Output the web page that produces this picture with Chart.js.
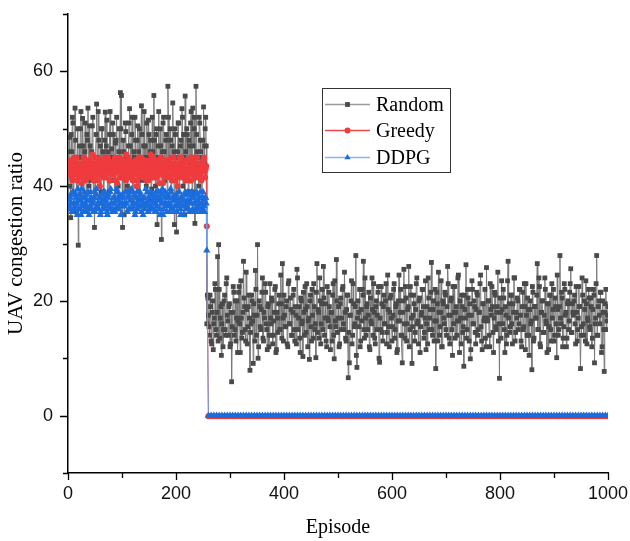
<!DOCTYPE html>
<html><head><meta charset="utf-8">
<script src="https://cdn.jsdelivr.net/npm/chart.js@4.4.0/dist/chart.umd.min.js"></script>
<style>html,body{margin:0;padding:0;background:#fff}canvas{display:block}</style>
</head><body>
<canvas id="c" width="630" height="541"></canvas>
<script>
const seriesNames = ['Random', 'Greedy', 'DDPG'];
const xTickLabels = [0, 200, 400, 600, 800, 1000];
const yTickLabels = [0, 20, 40, 60];

// odd episodes: phase 1 = 1,3,...,255 ; phase 2 = 257,...,999
// even episodes: phase 1 = 2,4,...,256 ; phase 2 = 258,...,1000
const oddStart1 = 1, evenStart1 = 2, oddStart2 = 257, evenStart2 = 258, episodeStep = 2;

const randomPhase1Odd = [
44,48.5,34.5,46,51,42,53.6,45,41,29.7,
47,50,43,51.8,38,46,44,49,53.6,40,
47,42,50.5,37,32.8,45,54.3,41,48,44,
39,50,46,42,52.9,47,38.5,44,49,41,
46.5,51,43,37.5,48,45,40,50,56.3,55.8,
32.8,46,42,49.5,44,39,51,47,43,52,
38,45,48,41,50.5,46,36.5,44,49,42,
53,47,40,45,51.5,43,48,39.5,46,55.8,
42,49,33.3,47,44,50,30.7,46,52,41,
48,44,57.4,43,50,38,47,45,33.3,49,
32,46,51,42,48,53.5,40,45,55.7,43,
49,39,47,51,44,53.6,50,33.5,57.4,46,
42,52,48,38,45,53.8,47,52
];
const randomPhase1Even = [
46,40,49,52,37,44,48,35.5,50,43,
45,53,39,47,42,51,36,48,44,50.5,
41,46,52,43,38,49,45,53,40,47,
50,44,36.5,48,42,51.5,46,39,53,45,
43,49,41,47.5,52,38,46,44,50,42,
48,35,51,45,40,47,53.5,43,49,37,
46,52,42,48,39,50,44,54,41,47,
45,38,51,43,49,46,36,52,44,48,
40,50,45,53,42,47,39,51,46,43,
49,37,52,44,48,41,54.5,46,50,42,
45,51,38,47,43,52,49,35,46,50,
41,48,44,53,39,47,52,43,49,45,
40,51,46,36,48,44,50,47
];

const randomPhase2Odd = [
16,20.5,15.5,21,13,18,11.5,17,22,14,
27.7,29.8,13.5,19,16,12,20,15,23,17.5,
14,19.5,12.5,5.9,18,21.5,15,13,20,16.5,
22.5,11,17,14.5,26.9,19,13,18.5,15.5,21,
7.9,16,20,9.1,17.5,25.3,14,29.8,12,19,
15,21.5,13.5,18,23,16,11.5,19.5,14,17,
20.5,12.5,16.5,22,11,18,14.5,21,15,19.5,
26.5,13,17.5,15.5,20,12,23.5,16,18.5,14,
21,15,19,12.5,24,17,13.5,20.5,16,10.3,
18,22.5,14.5,19,16.5,9.8,21,13,17.5,23,
15,10.1,26.5,18.5,13.5,20,16,22,26,14,
19.5,12,17,21.5,15.5,18,13,23,9.9,16.5,
27.2,14.5,19,12.5,20.5,17,22.5,15,18,13,
21,6.6,9.2,17.5,23.5,14,19.5,16,27.9,8.4,
20,15.5,12,18.5,22,26.9,13.5,17,19,15,
21.5,11.5,16.5,24,14,18,12.5,20,17.5,22.5,
9.3,15,19.5,13,21,16,23,14.5,18.5,12,
20.5,17,15.5,22,13.5,19,11,16.5,24.5,18,
14,9.2,20,16,22.5,13,18.5,26,15,21,
9.1,17.5,19.5,14.5,23,16,12.5,20.5,15.5,18,
22,13.5,17,11.5,19,24,15,18.5,26.7,14,
20,16.5,8.2,21.5,13,18,15.5,23.5,12,19.5,
16,21,14,26,17.5,12.5,20,15,22.5,18,
13.5,19,16.5,24.5,11,17,21,14.5,8.6,18.5,
26.3,15,20.5,13,9.9,17.5,22,16,19,12.5,
21.5,14,18,23,15.5,11.5,19.5,17,13.5,25.8,
16.5,20,12,18.5,22.5,14.5,17,21,15,19,
13,6.5,18,23.5,16,20.5,11,17.5,14,26.9,
19.5,15.5,21,12.5,18,24,14.5,17,20,16,
22,13,19,15,23,11.5,17.5,20.5,14,18.5,
16,8,21.5,13.5,19,17,26.5,15,22.5,12,
18,20,14.5,24,16.5,11,19.5,15.5,21,13,
17,22,14,19,10.1,18.5,15,27.9,16,20.5,
13.5,23,17.5,12,19.5,15,21.5,25.6,14.5,18,
20,16,22.5,13,17,19,8.2,15.5,21,14,
18.5,23.5,12.5,16.5,20.5,15,19,13.5,22,9.2,
17,27.9,14,20,16,21.5,12,18,7.7,19.5,
15,17.5
];
const randomPhase2Even = [
21,17.5,14,19,12.5,20,16,23,15,18,
13,22,17,10.5,19.5,15,21,14,24,16.5,
19,12,18,15.5,22.5,14,20,17,11,21.5,
16,23.5,13.5,18,20.5,15,25,12.5,19,17,
14.5,21,16.5,19.5,13,22,17.5,10,20,15.5,
18.5,24,13,17,21.5,15,19,12,23,16,
20,14,18,22.5,11.5,17,19.5,15,24.5,13.5,
17,21,15.5,19,12.5,23,16,20.5,14,18,
22,13,17.5,25.5,15,19,11,20,16.5,21.5,
14,18.5,23,12,17,20,15.5,22,13.5,19,
16,21.5,14.5,18,24,12.5,19.5,15,20.5,17,
13,22.5,16.5,19,11.5,18,21,14,23.5,15.5,
20,17,12,19.5,15,22,16,25,13.5,18.5,
21,14.5,17.5,20,12.5,23,15.5,19,10.5,17,
18,22,13,16.5,21,15,24,14,19.5,17.5,
12,20.5,16,18.5,23,13.5,19,15,21.5,10,
17,22.5,14.5,19,16,20,12.5,24.5,15.5,18,
21,13,17.5,23,15,19.5,11.5,20,16.5,22,
14,18,25.5,13.5,20.5,16,19,12,22.5,17,
15.5,21,13,18.5,24,16.5,20,11,17.5,22,
19,14.5,23.5,16,12.5,20.5,17,21.5,15,18.5,
13,22,16.5,19.5,25,14,18,12,20,17,
21.5,15,19,23,13.5,17.5,20.5,10.5,16,22.5,
18,14,24,16.5,20,12.5,19,15.5,21,17,
13.5,22,17.5,19.5,11.5,23.5,16,20,14.5,18.5,
21,15,18,24.5,13,19.5,16.5,22,12,17,
20,14,23,17.5,19,11,21.5,15.5,18,25,
16,20.5,13.5,18.5,22,15,19,12.5,23.5,17,
14.5,21,16,19.5,24,13,18,20.5,15,22,
17.5,12,21.5,15.5,19,23,14,18.5,10.5,20,
16.5,22.5,13,19,17,21,15,24,12.5,18,
20,14.5,17.5,22,16,19.5,11.5,21,15,23,
18.5,13,20.5,16,24.5,14,19,17,21.5,12,
15.5,22,18,13.5,20,16.5,23,14.5,19.5,17.5,
21,12.5,18,15,22.5,19,14,24,16,20,
13,19.5,17,22,15.5,20.5,12,18.5,21,16,
23,14,19,17.5,21.5,11,20,15,18,22,
16.5,19
];

const greedyPhase1Odd = [
43.5,42,44.5,41.5,43,45,42.5,44,41,43.5,
44,42.5,40.5,43,45,42,44.5,43,41.5,44,
42.5,43.5,45.5,41,43,44,42,44.5,43,40,
43.5,42,44,45,41.5,43,42.5,44.5,41,43.5,
44,42,43,45,42.5,40.5,44,43.5,41.5,43,
44.5,42,43,41,44,45,42.5,43.5,41.5,44,
43,42,44.5,40,43.5,45,42,43,44,41.5,
43.5,44.5,42,43,41,44,45.5,42.5,43,41.5,
44,43,42,44.5,40.5,43.5,45,42,43,44,
41.5,43,44.5,42,43.5,45,41,43,42.5,44,
43,40,44,45,42.5,43.5,41.5,44,43,42,
44.5,43,41,45,42.5,43.5,44,41.5,43,45,
42,43.5,44,41,43,44.5,42.5,43
];
const greedyPhase1Even = [
42.5,44,43,41,44.5,42,43.5,45,42,43,
41.5,44,43,42.5,45,41,43.5,44,42,44.5,
43,41.5,44,42.5,43.5,45,41,43,44,42,
44.5,43,41.5,44,42,43.5,45,42.5,41,43,
43.5,42,44.5,41,43,44,42.5,45,43,41.5,
42,44,43,45.5,41.5,43,44.5,42,43.5,41,
44,42.5,43,41,44.5,43.5,42,45,41.5,43,
42.5,44,41,43.5,42,44.5,43,41.5,45,42.5,
43,41.5,44,42,43.5,45,42.5,40.5,44,43,
44.5,42,43,41.5,44,43.5,42,45,41,43.5,
42,44,43,41.5,45,42.5,44,43,41,44.5,
43,42,44.5,41,43.5,45,42,43,44,41.5,
43.5,42,44,42.5,43,45,41.5,43.5
];

const ddpgPhase1Odd = [
37.5,36,38.5,35.5,39,37,36.5,38,35,37.5,
38.5,36,39.5,37,35.5,38,36.5,37.5,39,35,
36.5,38,37,35.5,39,36,38.5,37,36,38,
35.5,37.5,39,36.5,38,37,35,38.5,36,39.5,
37,36,38,35.5,37.5,39,36.5,38,37,35,
38.5,36.5,37,39,35.5,38,36,37.5,39.5,36,
37,38.5,35.5,37,36,38,39,36.5,37.5,35,
38,36.5,37,39,35.5,37.5,38.5,36,37,38,
35.5,39,36.5,37.5,38,35,37,39.5,36,38,
37,35.5,38.5,36.5,37,39,36,38,35.5,37.5,
38,36.5,39,37,35,38,36.5,37.5,39,36,
37.5,38.5,35.5,37,39,36,38,37,35.5,38.5,
36.5,37,39,36,38,37.5,35.5,38
];
const ddpgPhase1Even = [
36.5,38,37,35.5,39,36,38.5,37,39.5,36,
37.5,35,38,36.5,39,37,35.5,38.5,36,37.5,
39,36,37.5,38,35.5,39.5,36.5,37,38,35,
37,38.5,36,39,37.5,35.5,38,36.5,39,37,
35.5,38,37,36,39.5,37.5,36,38.5,35,37,
38,36.5,39,37,35.5,38.5,36,37.5,39,36.5,
37,35,38,39,36.5,37.5,38.5,35.5,37,38,
36,39.5,37,35.5,38,36.5,39,37.5,36,38.5,
37,35.5,38,39,36,37.5,38.5,35,37,39,
36.5,38,37,35.5,39.5,36,38,37.5,36.5,38.5,
35.5,37,39,36,38,37.5,35,38.5,36.5,37,
39,36,37.5,38,35.5,38.5,37,36,39,37.5,
36,38,35.5,37,39,36.5,38,37
];

// the step down at episode 257
const dropEpisode = 257;
const greedyDrop = [33];
const ddpgDrop = [28.8];

// second phase for Greedy / DDPG: episodes 260,265,...,1000
const lowStart = 260, lowStep = 5;
const greedyPhase2 = [
-0.1,-0.1,-0.1,-0.1,-0.1,-0.1,-0.1,-0.1,-0.1,-0.1,
-0.1,-0.1,-0.1,-0.1,-0.1,-0.1,-0.1,-0.1,-0.1,-0.1,
-0.1,-0.1,-0.1,-0.1,-0.1,-0.1,-0.1,-0.1,-0.1,-0.1,
-0.1,-0.1,-0.1,-0.1,-0.1,-0.1,-0.1,-0.1,-0.1,-0.1,
-0.1,-0.1,-0.1,-0.1,-0.1,-0.1,-0.1,-0.1,-0.1,-0.1,
-0.1,-0.1,-0.1,-0.1,-0.1,-0.1,-0.1,-0.1,-0.1,-0.1,
-0.1,-0.1,-0.1,-0.1,-0.1,-0.1,-0.1,-0.1,-0.1,-0.1,
-0.1,-0.1,-0.1,-0.1,-0.1,-0.1,-0.1,-0.1,-0.1,-0.1,
-0.1,-0.1,-0.1,-0.1,-0.1,-0.1,-0.1,-0.1,-0.1,-0.1,
-0.1,-0.1,-0.1,-0.1,-0.1,-0.1,-0.1,-0.1,-0.1,-0.1,
-0.1,-0.1,-0.1,-0.1,-0.1,-0.1,-0.1,-0.1,-0.1,-0.1,
-0.1,-0.1,-0.1,-0.1,-0.1,-0.1,-0.1,-0.1,-0.1,-0.1,
-0.1,-0.1,-0.1,-0.1,-0.1,-0.1,-0.1,-0.1,-0.1,-0.1,
-0.1,-0.1,-0.1,-0.1,-0.1,-0.1,-0.1,-0.1,-0.1,-0.1,
-0.1,-0.1,-0.1,-0.1,-0.1,-0.1,-0.1,-0.1,-0.1
];
const ddpgPhase2 = [
0,0,0,0,0,0,0,0,0,0,
0,0,0,0,0,0,0,0,0,0,
0,0,0,0,0,0,0,0,0,0,
0,0,0,0,0,0,0,0,0,0,
0,0,0,0,0,0,0,0,0,0,
0,0,0,0,0,0,0,0,0,0,
0,0,0,0,0,0,0,0,0,0,
0,0,0,0,0,0,0,0,0,0,
0,0,0,0,0,0,0,0,0,0,
0,0,0,0,0,0,0,0,0,0,
0,0,0,0,0,0,0,0,0,0,
0,0,0,0,0,0,0,0,0,0,
0,0,0,0,0,0,0,0,0,0,
0,0,0,0,0,0,0,0,0,0,
0,0,0,0,0,0,0,0,0
];

const pts = (vals, start, step) => vals.map((y, i) => ({x: start + i * step, y}));
const merge = (...parts) => [].concat(...parts).sort((a, b) => a.x - b.x);

const randomData = merge(
  pts(randomPhase1Odd, oddStart1, episodeStep), pts(randomPhase1Even, evenStart1, episodeStep),
  pts(randomPhase2Odd, oddStart2, episodeStep), pts(randomPhase2Even, evenStart2, episodeStep));
const greedyData = merge(
  pts(greedyPhase1Odd, oddStart1, episodeStep), pts(greedyPhase1Even, evenStart1, episodeStep),
  pts(greedyDrop, dropEpisode, 1), pts(greedyPhase2, lowStart, lowStep));
const ddpgData = merge(
  pts(ddpgPhase1Odd, oddStart1, episodeStep), pts(ddpgPhase1Even, evenStart1, episodeStep),
  pts(ddpgDrop, dropEpisode, 1), pts(ddpgPhase2, lowStart, lowStep));

const styles = [
  {line:'#7a7a7a', legendLine:'#9a9a9a', point:'#4a4a4a', shape:'rect', r:3.4},
  {line:'#f04848', legendLine:'#f04848', point:'#ef3b3e', shape:'circle', r:3.0},
  {line:'#6a9eec', legendLine:'#8ab4f0', point:'#1b6cdc', shape:'triangle', r:4.2}
];

const serif = "'Liberation Serif', 'Times New Roman', serif";
const sans = "'Liberation Sans', Arial, sans-serif";

function drawMarker(ctx, shape, x, y, r, color) {
  ctx.fillStyle = color;
  ctx.beginPath();
  if (shape === 'rect') { const s = Math.SQRT1_2 * r; ctx.rect(x - s, y - s, 2*s, 2*s); }
  else if (shape === 'circle') { ctx.arc(x, y, r, 0, Math.PI*2); }
  else { ctx.moveTo(x, y - r); ctx.lineTo(x + r*Math.sin(2*Math.PI/3), y + r*0.5); ctx.lineTo(x - r*Math.sin(2*Math.PI/3), y + r*0.5); ctx.closePath(); }
  ctx.fill();
}

const extras = {
  id: 'extras',
  afterDraw(chart) {
    const {ctx, chartArea: a, scales: {x, y}} = chart;
    ctx.save();
    ctx.strokeStyle = '#000'; ctx.lineWidth = 1.3;
    ctx.beginPath();
    y.ticks.forEach(t => {
      const p = Math.round(y.getPixelForValue(t.value)) + 0.5;
      const len = yTickLabels.includes(t.value) ? 8 : 5;
      ctx.moveTo(a.left, p); ctx.lineTo(a.left - len, p);
    });
    x.ticks.forEach(t => {
      const p = Math.round(x.getPixelForValue(t.value)) + 0.5;
      const len = xTickLabels.includes(t.value) ? 7 : 5;
      ctx.moveTo(p, a.bottom); ctx.lineTo(p, a.bottom + len);
    });
    ctx.stroke();

    // legend
    const bx = 322.5, by = 88.5, bw = 128, bh = 84;
    ctx.lineWidth = 1; ctx.strokeStyle = '#333';
    ctx.strokeRect(bx, by, bw, bh);
    const rows = [104, 130, 157];
    ctx.font = '20px ' + serif;
    ctx.textBaseline = 'middle'; ctx.textAlign = 'left';
    seriesNames.forEach((name, i) => {
      const st = styles[i];
      const yy = rows[i] + 0.5;
      ctx.strokeStyle = st.legendLine; ctx.lineWidth = 1.5;
      ctx.beginPath(); ctx.moveTo(325, yy); ctx.lineTo(370, yy); ctx.stroke();
      drawMarker(ctx, st.shape, 347.5, yy, i === 2 ? 3.6 : st.r, st.point);
      ctx.fillStyle = '#000';
      ctx.fillText(name, 376, yy + 1);
    });
    ctx.restore();
  }
};

const mk = (label, data, i, order) => ({
  label, data, order,
  borderColor: styles[i].line, borderWidth: 1,
  pointStyle: styles[i].shape, pointRadius: styles[i].r,
  pointBackgroundColor: styles[i].point, pointBorderWidth: 0,
  pointHoverRadius: styles[i].r, tension: 0, fill: false
});

new Chart(document.getElementById('c'), {
  type: 'line',
  data: {
    datasets: [
      mk(seriesNames[0], randomData, 0, 3),
      mk(seriesNames[1], greedyData, 1, 2),
      mk(seriesNames[2], ddpgData, 2, 1)
    ]
  },
  options: {
    responsive: false, animation: false, devicePixelRatio: 1,
    layout: {padding: {left: 0, top: 14, right: 22, bottom: 0}},
    plugins: {legend: {display: false}, tooltip: {enabled: false}},
    scales: {
      x: {
        type: 'linear', min: 0, max: 1000,
        grid: {display: false, drawTicks: false},
        border: {display: true, color: '#000', width: 1.5},
        ticks: {stepSize: 100, autoSkip: false, maxRotation: 0, padding: 10,
          color: '#111', font: {family: sans, size: 18},
          callback: v => xTickLabels.includes(v) ? String(v) : ''},
        title: {display: true, text: 'Episode', color: '#000', font: {family: serif, size: 20}, padding: {top: 0, bottom: 1}},
        afterFit: s => { s.height = 68; s.paddingLeft = 0; s.paddingRight = 0; }
      },
      y: {
        type: 'linear', min: -10, max: 70,
        grid: {display: false, drawTicks: false},
        border: {display: true, color: '#000', width: 1.5},
        ticks: {stepSize: 10, autoSkip: false, padding: 15,
          color: '#111', font: {family: sans, size: 18},
          callback: v => yTickLabels.includes(v) ? String(v) : ''},
        title: {display: true, text: 'UAV congestion ratio', color: '#000', font: {family: serif, size: 21}, padding: {top: 4, bottom: 0}},
        afterFit: s => { s.width = 68; s.paddingTop = 0; s.paddingBottom = 0; }
      }
    }
  },
  plugins: [extras]
});
</script>
</body></html>
